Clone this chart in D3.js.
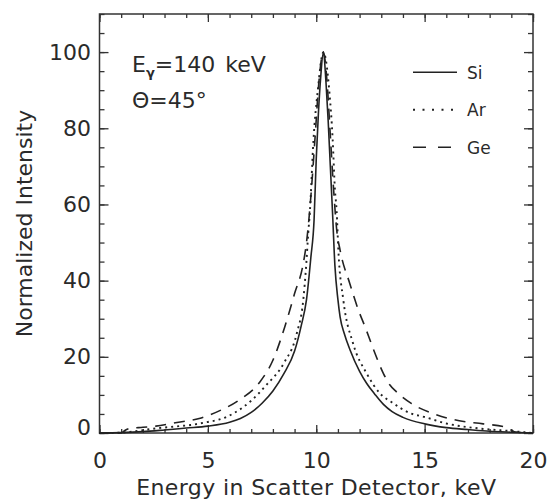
<!DOCTYPE html>
<html>
<head>
  <meta charset="utf-8">
  <title>Normalized Intensity vs Energy</title>
  <style>
    body { margin: 0; background: #fff; }
    text { font-family: "DejaVu Sans", sans-serif; fill: #2a2a2a; }
  </style>
</head>
<body>
  <div id="chart"></div>
  <script src="https://cdn.jsdelivr.net/npm/d3@7"></script>
  <script type="text/javascript">
    // values
    var seriesNames = ["Si", "Ar", "Ge"];

    var energySi = [0, 1, 2, 3, 4, 5, 6, 6.5, 7, 7.5, 8, 8.5, 9, 9.3, 9.55, 9.75, 9.9, 10.0, 10.1, 10.2, 10.33,
      10.45, 10.55, 10.65, 10.75, 10.86, 11.0, 11.1, 11.3, 11.56, 12.0, 12.33, 12.7, 13.1, 13.5, 14.0, 15, 16, 17, 18, 19, 20];
    var intensitySi = [0, 0.1, 0.35, 0.8, 1.3, 1.8, 2.8, 3.8, 5.4, 7.8, 11, 15.5, 21.5, 28, 35, 46, 56, 72, 84, 93, 100,
      92, 82, 70, 58, 44, 35, 30.5, 26, 21.8, 16.2, 13, 10.2, 7.5, 5.6, 4.1, 2.4, 1.4, 0.9, 0.45, 0.2, 0];

    var energyAr = [0, 1, 1.4, 2.6, 3.5, 4.2, 5, 5.5, 6.2, 7, 7.7, 8.5, 9.1, 9.4, 9.53, 9.63, 9.71, 9.87, 10.07, 10.33,
      10.6, 10.76, 10.86, 10.94, 11.02, 11.25, 11.7, 12.33, 12.94, 13.5, 14.33, 15, 16, 17.5, 19, 20];
    var intensityAr = [0, 0.1, 0.3, 1.2, 1.7, 2.1, 2.9, 3.5, 5.2, 8.5, 12.6, 18.3, 26.1, 34.9, 43.6, 52.4, 58.4, 76.8, 89.9, 100,
      89.9, 76.8, 64, 58.4, 48, 34.9, 23.5, 15.6, 10.4, 8.0, 5.2, 4.2, 2.5, 1.2, 0.5, 0];

    var energyGe = [0, 1.0, 1.15, 1.4, 2, 2.6, 3.5, 4.6, 5.6, 6.4, 7.4, 8.0, 8.55, 9.0, 9.4, 9.55, 9.75, 9.95, 10.12, 10.33,
      10.5, 10.65, 10.8, 10.95, 11.1, 11.55, 11.95, 12.25, 12.65, 13.1, 13.4, 13.7, 14.4, 15.5, 16.6, 17.7, 18.8, 19.1, 19.3, 20];
    var intensityGe = [0, 0, 0.6, 1.2, 1.5, 1.8, 2.7, 3.8, 6.0, 8.5, 13.4, 19.1, 27.9, 36.6, 44.5, 50, 62, 78, 92, 100,
      92, 78, 64, 53, 48, 39.2, 32.2, 27.9, 21.8, 15.6, 12.6, 10.8, 7.7, 4.9, 3.2, 2.4, 1.4, 0.4, 0.2, 0];

    var xTicks = [0, 5, 10, 15, 20];
    var yTicks = [0, 20, 40, 60, 80, 100];

    var w = 548;
    var h = 501;
    var pLeft = 99.5, pRight = 533, pTop = 14, pBottom = 433;

    var svg = d3.select("#chart")
      .append("svg")
      .attr("width", w)
      .attr("height", h);

    var x = d3.scaleLinear().domain([0, 20]).range([pLeft, pRight]);
    var y = d3.scaleLinear().domain([0, 110]).range([pBottom, pTop]);

    var xMinor = d3.range(0, 21, 1);
    var yMinor = d3.range(0, 111, 5);

    function styleAxis(g) {
      g.select(".domain").remove();
      g.selectAll("line").attr("stroke", "#333").attr("stroke-width", 1.3);
      g.selectAll("text").style("font-size", "22px").attr("fill", "#2a2a2a");
    }

    // bottom
    svg.append("g").attr("transform", "translate(0," + pBottom + ")")
      .call(d3.axisBottom(x).tickValues(xMinor).tickSize(-4).tickFormat(""))
      .call(styleAxis);
    svg.append("g").attr("transform", "translate(0," + pBottom + ")")
      .call(d3.axisBottom(x).tickValues(xTicks).tickSize(-8).tickPadding(19).tickFormat(d3.format("d")))
      .call(styleAxis);
    // top
    svg.append("g").attr("transform", "translate(0," + pTop + ")")
      .call(d3.axisTop(x).tickValues(xMinor).tickSize(-4).tickFormat(""))
      .call(styleAxis);
    svg.append("g").attr("transform", "translate(0," + pTop + ")")
      .call(d3.axisTop(x).tickValues(xTicks).tickSize(-8).tickFormat(""))
      .call(styleAxis);
    // left
    svg.append("g").attr("transform", "translate(" + pLeft + ",0)")
      .call(d3.axisLeft(y).tickValues(yMinor).tickSize(-5).tickFormat(""))
      .call(styleAxis);
    var yAxis = svg.append("g").attr("transform", "translate(" + pLeft + ",0)")
      .call(d3.axisLeft(y).tickValues(yTicks).tickSize(-9).tickPadding(8.5).tickFormat(d3.format("d")))
      .call(styleAxis);
    yAxis.selectAll(".tick text").filter(function(d) { return d === 0; }).attr("dy", "0.05em");
    // right
    svg.append("g").attr("transform", "translate(" + pRight + ",0)")
      .call(d3.axisRight(y).tickValues(yMinor).tickSize(-5).tickFormat(""))
      .call(styleAxis);
    svg.append("g").attr("transform", "translate(" + pRight + ",0)")
      .call(d3.axisRight(y).tickValues(yTicks).tickSize(-9).tickFormat(""))
      .call(styleAxis);

    // frame
    svg.append("rect")
      .attr("x", pLeft).attr("y", pTop)
      .attr("width", pRight - pLeft).attr("height", pBottom - pTop)
      .attr("fill", "none").attr("stroke", "#333").attr("stroke-width", 1.5);

    var series = [
      { name: seriesNames[0], e: energySi, v: intensitySi, dash: null, sw: 1.6 },
      { name: seriesNames[1], e: energyAr, v: intensityAr, dash: "2,4", sw: 1.9 },
      { name: seriesNames[2], e: energyGe, v: intensityGe, dash: "11,8", sw: 1.6 }
    ];

    var line = d3.line()
      .x(function(d) { return x(d[0]); })
      .y(function(d) { return y(d[1]); })
      .curve(d3.curveMonotoneX);

    svg.selectAll("path.curve")
      .data(series)
      .enter()
      .append("path")
      .attr("class", "curve")
      .attr("d", function(s) { return line(d3.zip(s.e, s.v)); })
      .attr("fill", "none")
      .attr("stroke", "#222")
      .attr("stroke-width", function(s) { return s.sw; })
      .attr("stroke-dasharray", function(s) { return s.dash; });

    // legend
    var legend = svg.selectAll("g.legend")
      .data(series)
      .enter()
      .append("g")
      .attr("class", "legend")
      .attr("transform", function(d, i) { return "translate(413," + (72.3 + i * 37.5) + ")"; });
    legend.append("line")
      .attr("x1", 0).attr("x2", 44)
      .attr("stroke", "#222")
      .attr("stroke-width", function(s) { return s.sw; })
      .attr("stroke-dasharray", function(s) { return s.dash === "11,8" ? "13,12" : (s.dash ? "2,7.5" : null); });
    legend.append("text")
      .attr("x", 54).attr("y", 6.5)
      .style("font-size", "17px")
      .text(function(s) { return s.name; });

    // annotation
    var ann = svg.append("text").attr("x", 132).attr("y", 72).style("font-size", "22px");
    ann.append("tspan").text("E");
    ann.append("tspan").attr("dy", 5).style("font-size", "13px").style("font-weight", "bold").text("γ");
    ann.append("tspan").attr("dy", -5).text("=140");
    ann.append("tspan").attr("dx", 10).text("keV");
    svg.append("text").attr("x", 132).attr("y", 108).style("font-size", "22px").text("Θ=45°");

    // axis titles
    svg.append("text")
      .attr("x", (pLeft + pRight) / 2).attr("y", 495)
      .attr("text-anchor", "middle")
      .style("font-size", "22px")
      .style("letter-spacing", "0.4px")
      .text("Energy in Scatter Detector, keV");
    svg.append("text")
      .attr("transform", "translate(32," + (pTop + pBottom) / 2 + ") rotate(-90)")
      .attr("text-anchor", "middle")
      .style("font-size", "22px")
      .text("Normalized Intensity");
  </script>
</body>
</html>
